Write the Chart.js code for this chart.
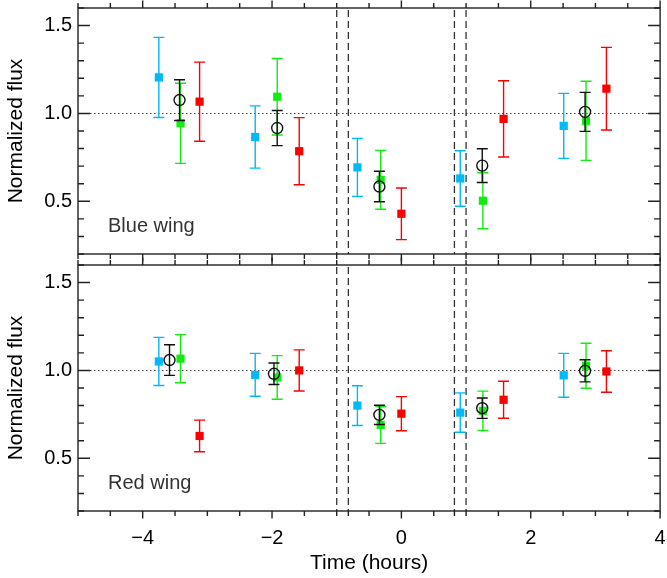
<!DOCTYPE html>
<html>
<head>
<meta charset="utf-8">
<script src="https://cdn.jsdelivr.net/npm/chart.js@4.4.1/dist/chart.umd.min.js"></script>
<style>
  html, body { margin: 0; padding: 0; background: #fff; }
  #wrap { position: relative; width: 667px; height: 578px; }
  canvas { position: absolute; left: 0; top: 0; }
</style>
</head>
<body>
<div id="wrap">
  <canvas id="blueWing" width="667" height="578"></canvas>
  <canvas id="redWing" width="667" height="578"></canvas>
</div>
<script>
// x positions (hours) of each epoch, per colour
const xBlue = [-3.75, -2.26, -0.68, 0.91, 2.51];
const xGreen = [-3.415, -1.92, -0.32, 1.26, 2.855];
const xRed = [-3.12, -1.58, 0.0, 1.58, 3.17];
const xBlackTop = [-3.43, -1.92, -0.34, 1.25, 2.84];
const xBlackBot = [-3.585, -1.97, -0.34, 1.25, 2.84];

// Blue wing panel
const bwBlue = [1.205, 0.866, 0.693, 0.630, 0.929];
const bwBlueErr = [0.228, 0.177, 0.165, 0.158, 0.185];
const bwGreen = [0.944, 1.095, 0.622, 0.503, 0.958];
const bwGreenErr = [0.228, 0.218, 0.167, 0.159, 0.225];
const bwRed = [1.067, 0.785, 0.429, 0.969, 1.141];
const bwRedErr = [0.225, 0.191, 0.147, 0.217, 0.235];
const bwBlack = [1.076, 0.917, 0.584, 0.703, 1.009];
const bwBlackErr = [0.116, 0.100, 0.087, 0.096, 0.111];

// Red wing panel
const rwBlue = [1.051, 0.975, 0.800, 0.760, 0.972];
const rwBlueErr = [0.137, 0.122, 0.113, 0.112, 0.125];
const rwGreen = [1.067, 0.960, 0.690, 0.770, 1.027];
const rwGreenErr = [0.137, 0.124, 0.105, 0.112, 0.128];
const rwRed = [0.627, 1.000, 0.754, 0.833, 0.994];
const rwRedErr = [0.090, 0.117, 0.097, 0.105, 0.118];
const rwBlack = [1.059, 0.981, 0.747, 0.785, 0.998];
const rwBlackErr = [0.087, 0.061, 0.055, 0.058, 0.063];

// transit contact times (dashed lines)
const contacts = [-1.0, -0.82, 0.82, 1.0];
const xTicks = [-4, -2, 0, 2, 4];
const yTicks = [0.5, 1.0, 1.5];

const FONT = '"Liberation Sans", Arial, Helvetica, sans-serif';
const BLUE = 'rgb(0,185,245)';
const GREEN = 'rgb(20,235,20)';
const RED = 'rgb(250,0,0)';

const pts = (xs, ys) => xs.map((v, i) => ({ x: v, y: ys[i] }));
const fmtX = v => v < 0 ? '\u2212' + (-v) : String(v);

const decor = {
  id: 'decor',
  beforeDatasetsDraw(chart) {
    const { ctx, chartArea: a, scales: { x, y } } = chart;
    ctx.save();
    // reference level
    ctx.strokeStyle = '#444';
    ctx.lineWidth = 1.2;
    ctx.setLineDash([1.5, 2.5]);
    const y1 = Math.round(y.getPixelForValue(1)) + 0.5;
    ctx.beginPath();
    ctx.moveTo(a.left, y1);
    ctx.lineTo(a.right, y1);
    ctx.stroke();
    // contacts
    ctx.strokeStyle = '#333';
    ctx.lineWidth = 1.3;
    ctx.setLineDash([7, 4]);
    contacts.forEach(t => {
      const px = x.getPixelForValue(t);
      ctx.beginPath();
      ctx.moveTo(px, a.top + 2);
      ctx.lineTo(px, a.bottom);
      ctx.stroke();
    });
    ctx.restore();
  },
  beforeDatasetDraw(chart, args) {
    const ds = chart.data.datasets[args.index];
    const { ctx, scales: { x, y } } = chart;
    ctx.save();
    ctx.strokeStyle = ds.barColor;
    ctx.lineWidth = 1.4;
    ds.data.forEach((p, i) => {
      const px = x.getPixelForValue(p.x);
      const lo = y.getPixelForValue(p.y - ds.err[i]);
      const hi = y.getPixelForValue(p.y + ds.err[i]);
      ctx.beginPath();
      ctx.moveTo(px, lo); ctx.lineTo(px, hi);
      ctx.moveTo(px - 5.5, lo); ctx.lineTo(px + 5.5, lo);
      ctx.moveTo(px - 5.5, hi); ctx.lineTo(px + 5.5, hi);
      ctx.stroke();
    });
    ctx.restore();
  },
  afterDraw(chart, args, opts) {
    const { ctx, chartArea: a, scales: { x, y } } = chart;
    ctx.save();
    ctx.strokeStyle = '#222';
    ctx.lineWidth = 1.4;
    ctx.strokeRect(a.left, a.top, a.right - a.left, a.bottom - a.top);
    ctx.beginPath();
    // y ticks, inward on both sides
    for (let k = 2; k <= 16; k++) {
      const py = y.getPixelForValue(k / 10);
      const len = k % 5 === 0 ? 12 : 6;
      ctx.moveTo(a.left, py); ctx.lineTo(a.left + len, py);
      ctx.moveTo(a.right, py); ctx.lineTo(a.right - len, py);
    }
    // x ticks, outward top and bottom
    for (let k = -10; k <= 8; k++) {
      const px = x.getPixelForValue(k / 2);
      const len = k % 4 === 0 ? 7.5 : 5;
      ctx.moveTo(px, a.top); ctx.lineTo(px, a.top - len);
      ctx.moveTo(px, a.bottom); ctx.lineTo(px, a.bottom + len);
    }
    if (opts.contactTicks) {
      contacts.forEach(t => {
        const px = x.getPixelForValue(t);
        ctx.moveTo(px, a.bottom); ctx.lineTo(px, a.bottom + 5);
      });
    }
    ctx.stroke();
    ctx.fillStyle = '#333';
    ctx.font = '20px ' + FONT;
    ctx.textBaseline = 'alphabetic';
    ctx.fillText(opts.label, a.left + 30, a.bottom - 22.5);
    ctx.restore();
  }
};

function makePanel(id, label, data, showX) {
  const [xb, yb, eb, xg, yg, eg, xr, yr, er, xk, yk, ek] = data;
  return new Chart(document.getElementById(id), {
    type: 'scatter',
    data: {
      datasets: [
        { label: 'mean', data: pts(xk, yk), err: ek, barColor: '#111', order: 0,
          pointStyle: 'circle', pointRadius: 5.5, pointBorderWidth: 1.4,
          pointBorderColor: '#111', pointBackgroundColor: 'rgba(0,0,0,0)' },
        { label: 'red', data: pts(xr, yr), err: er, barColor: RED, order: 1,
          pointStyle: 'rect', pointRadius: 5.8, pointBorderWidth: 0,
          pointBackgroundColor: RED, pointBorderColor: RED },
        { label: 'green', data: pts(xg, yg), err: eg, barColor: GREEN, order: 2,
          pointStyle: 'rect', pointRadius: 5.8, pointBorderWidth: 0,
          pointBackgroundColor: GREEN, pointBorderColor: GREEN },
        { label: 'blue', data: pts(xb, yb), err: eb, barColor: BLUE, order: 3,
          pointStyle: 'rect', pointRadius: 5.8, pointBorderWidth: 0,
          pointBackgroundColor: BLUE, pointBorderColor: BLUE }
      ]
    },
    options: {
      responsive: false,
      animation: false,
      events: [],
      layout: { padding: showX ? { top: 265, right: 4, left: 0, bottom: 0 }
                               : { top: 8, right: 4, left: 0, bottom: 324 } },
      plugins: {
        legend: { display: false },
        tooltip: { enabled: false },
        decor: { label: label, contactTicks: showX }
      },
      scales: {
        x: {
          type: 'linear', min: -5, max: 4,
          display: showX,
          grid: { display: false, drawTicks: false },
          border: { display: false },
          afterBuildTicks: s => { s.ticks = xTicks.map(v => ({ value: v })); },
          afterFit: s => { s.height = showX ? 67 : 0; s.paddingLeft = 0; s.paddingRight = 0; },
          ticks: { color: '#000', padding: 15, maxRotation: 0, autoSkip: false,
                   font: { family: FONT, size: 20 }, callback: v => fmtX(v) },
          title: { display: true, text: 'Time (hours)', color: '#000',
                   font: { family: FONT, size: 21 }, padding: { top: 0, bottom: 2 } }
        },
        y: {
          type: 'linear', min: 0.2, max: 1.6,
          grid: { display: false, drawTicks: false },
          border: { display: false },
          afterBuildTicks: s => { s.ticks = yTicks.map(v => ({ value: v })); },
          afterFit: s => { s.width = 78; s.paddingTop = 0; s.paddingBottom = 0; },
          ticks: { color: '#000', padding: 6,
                   font: { family: FONT, size: 20 }, callback: v => v.toFixed(1) },
          title: { display: true, text: 'Normalized flux', color: '#000',
                   font: { family: FONT, size: 21 }, padding: { top: 4, bottom: 0 } }
        }
      }
    },
    plugins: [decor]
  });
}

makePanel('blueWing', 'Blue wing',
  [xBlue, bwBlue, bwBlueErr, xGreen, bwGreen, bwGreenErr, xRed, bwRed, bwRedErr, xBlackTop, bwBlack, bwBlackErr], false);
makePanel('redWing', 'Red wing',
  [xBlue, rwBlue, rwBlueErr, xGreen, rwGreen, rwGreenErr, xRed, rwRed, rwRedErr, xBlackBot, rwBlack, rwBlackErr], true);
</script>
</body>
</html>
